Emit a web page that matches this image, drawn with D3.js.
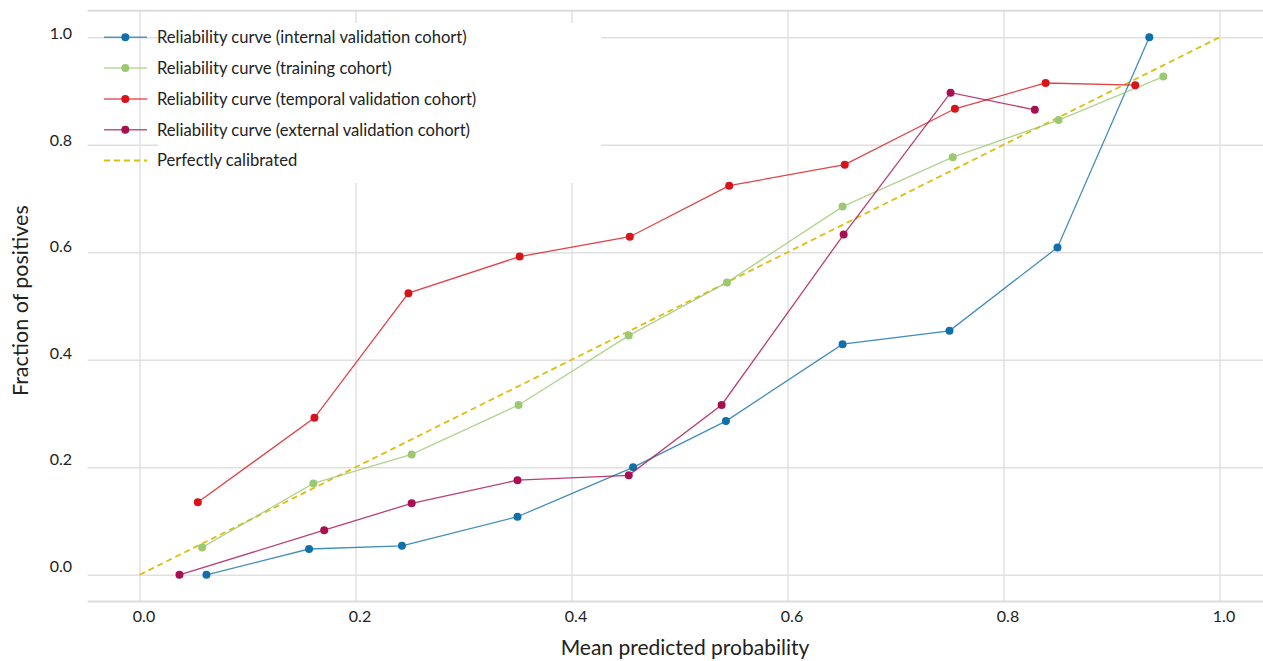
<!DOCTYPE html>
<html>
<head>
<meta charset="utf-8">
<script src="https://cdn.jsdelivr.net/npm/d3@7"></script>
<style>
  body { margin: 0; background: #fff; }
  svg { display: block; font-family: Lato, "Open Sans", sans-serif; }
</style>
</head>
<body>
<svg class="chart"></svg>
<script>
// --- data --- //
const internalX = [0.062, 0.157, 0.243, 0.350, 0.457, 0.543, 0.651, 0.750, 0.850, 0.935];
const internalY = [0.000, 0.048, 0.054, 0.108, 0.200, 0.286, 0.429, 0.454, 0.609, 1.000];

const trainingX = [0.058, 0.161, 0.252, 0.351, 0.453, 0.544, 0.651, 0.753, 0.851, 0.948];
const trainingY = [0.051, 0.170, 0.224, 0.316, 0.445, 0.544, 0.685, 0.777, 0.846, 0.927];

const temporalX = [0.054, 0.162, 0.249, 0.352, 0.454, 0.546, 0.653, 0.755, 0.839, 0.922];
const temporalY = [0.135, 0.292, 0.524, 0.592, 0.629, 0.724, 0.763, 0.867, 0.915, 0.911];

const externalX = [0.037, 0.171, 0.252, 0.350, 0.453, 0.539, 0.652, 0.751, 0.829];
const externalY = [0.000, 0.083, 0.133, 0.176, 0.185, 0.316, 0.633, 0.897, 0.865];

const diagonal = [0, 1];

const seriesNames = [
  "Reliability curve (internal validation cohort)",
  "Reliability curve (training cohort)",
  "Reliability curve (temporal validation cohort)",
  "Reliability curve (external validation cohort)",
  "Perfectly calibrated"
];
const tickValues = [0, 0.2, 0.4, 0.6, 0.8, 1.0];

// --- setup --- //
const width = 1263;
const height = 661;
const colors = ["#1170aa", "#9cc872", "#d8141a", "#a80f52"];
const diagColor = "#dcbf0c";
const gridColor = "#e0e0e0";

const svg = d3.select(".chart").attr("width", width).attr("height", height);

const x = d3.scaleLinear().domain([0, 1]).range([139.5, 1219.5]);
const y = d3.scaleLinear().domain([0, 1]).range([574.8, 37.3]);
// tick labels in the source sit a little off their gridlines
const yLabel = d3.scaleLinear().domain([0, 1]).range([566, 33.7]);

const pad = 0.048;
const plotLeft = x(-pad), plotRight = width;
const plotTop = y(1 + 0.0495), plotBottom = y(-0.0495);

// grid
const grid = svg.append("g").attr("class", "grid");
grid.append("g")
  .attr("transform", `translate(0,${plotBottom})`)
  .call(d3.axisBottom(x).tickValues(tickValues).tickSize(-(plotBottom - plotTop)).tickFormat(""))
  .call((g) => g.select(".domain").remove());
grid.append("g")
  .attr("transform", `translate(${plotLeft},0)`)
  .call(d3.axisLeft(y).tickValues(tickValues).tickSize(-(plotRight - plotLeft)).tickFormat(""))
  .call((g) => g.select(".domain").remove());
grid.selectAll("line").attr("stroke", gridColor).attr("stroke-width", 1.4);

// top and bottom frame lines
[plotTop, plotBottom].forEach((yy) => {
  svg.append("line")
    .attr("x1", plotLeft).attr("x2", plotRight)
    .attr("y1", yy).attr("y2", yy)
    .attr("stroke", "#dcdcdc").attr("stroke-width", 2);
});

// tick labels
svg.append("g")
  .attr("transform", "translate(72,0)")
  .call(d3.axisLeft(yLabel).tickValues(tickValues).tickSize(0).tickPadding(0).tickFormat(d3.format(".1f")))
  .call((g) => g.select(".domain").remove())
  .selectAll("text")
  .attr("font-family", "Lato, sans-serif")
  .attr("font-size", 16)
  .attr("fill", "#222");

svg.append("g")
  .attr("transform", "translate(4,611)")
  .call(d3.axisBottom(x).tickValues(tickValues).tickSize(0).tickPadding(0).tickFormat(d3.format(".1f")))
  .call((g) => g.select(".domain").remove())
  .selectAll("text")
  .attr("font-family", "Lato, sans-serif")
  .attr("font-size", 16)
  .attr("fill", "#222");

// axis titles
svg.append("text")
  .attr("x", 685).attr("y", 655)
  .attr("text-anchor", "middle")
  .attr("font-size", 21)
  .attr("fill", "#222")
  .text("Mean predicted probability");

svg.append("text")
  .attr("transform", "translate(28,300.7) rotate(-90)")
  .attr("text-anchor", "middle")
  .attr("font-size", 21.5)
  .attr("fill", "#222")
  .text("Fraction of positives");

// legend background
svg.append("rect")
  .attr("x", 158).attr("y", 23)
  .attr("width", 443).attr("height", 160)
  .attr("fill", "#fff");

// diagonal
svg.append("line")
  .attr("x1", x(diagonal[0])).attr("y1", y(diagonal[0]))
  .attr("x2", x(diagonal[1])).attr("y2", y(diagonal[1]))
  .attr("stroke", diagColor).attr("stroke-width", 1.8)
  .attr("stroke-dasharray", "6,4");

// curves
const curves = [
  [internalX, internalY],
  [trainingX, trainingY],
  [temporalX, temporalY],
  [externalX, externalY]
].map((s) => s[0].map((v, i) => [v, s[1][i]]));

const line = d3.line().x((d) => x(d[0])).y((d) => y(d[1]));

const curveLayer = svg.append("g").attr("class", "curves");
curves.forEach((pts, i) => {
  const g = curveLayer.append("g");
  g.append("path")
    .attr("d", line(pts))
    .attr("fill", "none")
    .attr("stroke", colors[i])
    .attr("stroke-opacity", 0.8)
    .attr("stroke-width", 1.3);
  g.selectAll("circle")
    .data(pts)
    .enter()
    .append("circle")
    .attr("cx", (d) => x(d[0]))
    .attr("cy", (d) => y(d[1]))
    .attr("r", 4)
    .attr("fill", colors[i]);
});

// legend
const legendY = d3.scaleLinear().domain([0, 1]).range([37.3, 68.1]);
const legend = svg.append("g").attr("class", "legend");
seriesNames.forEach((name, i) => {
  const ly = legendY(i);
  const item = legend.append("g");
  if (i < 4) {
    item.append("line")
      .attr("x1", 104).attr("x2", 147)
      .attr("y1", ly).attr("y2", ly)
      .attr("stroke", colors[i]).attr("stroke-opacity", 0.7)
      .attr("stroke-width", 1.5);
    item.append("circle")
      .attr("cx", 125.3).attr("cy", ly).attr("r", 4)
      .attr("fill", colors[i]);
  } else {
    item.append("line")
      .attr("x1", 104).attr("x2", 147)
      .attr("y1", ly).attr("y2", ly)
      .attr("stroke", diagColor).attr("stroke-width", 1.8)
      .attr("stroke-dasharray", "6,4");
  }
  item.append("text")
    .attr("x", 157).attr("y", ly)
    .attr("dy", "0.35em")
    .attr("font-size", 16.6)
    .attr("fill", "#222")
    .text(name);
});
</script>
</body>
</html>
